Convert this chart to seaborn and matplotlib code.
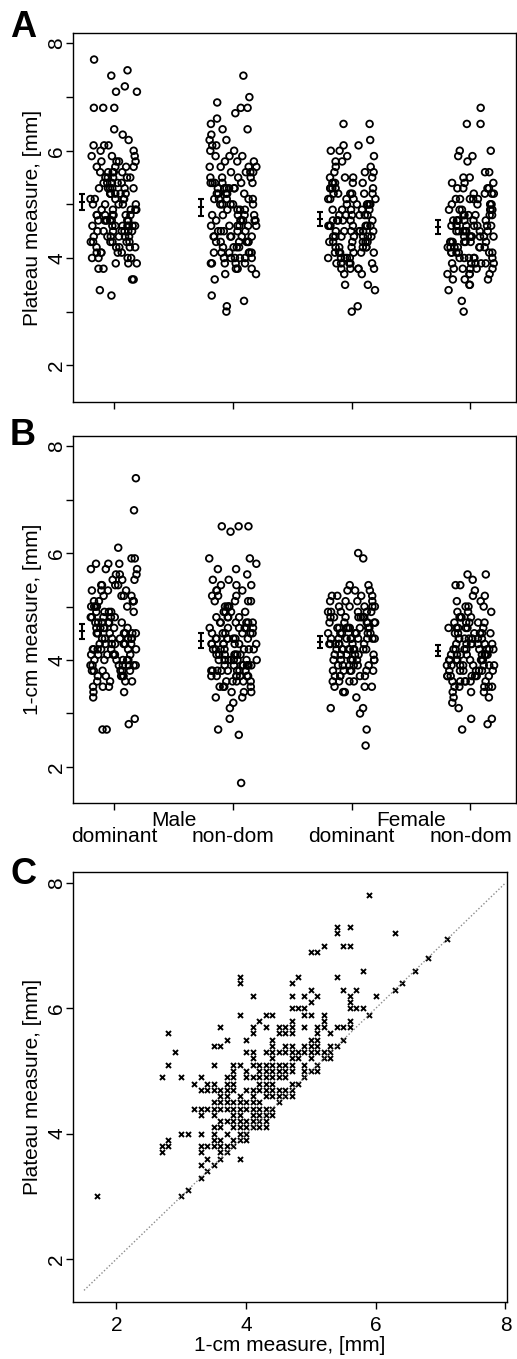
import numpy as np
import pandas as pd
import matplotlib
matplotlib.use("Agg")
import matplotlib.pyplot as plt
import seaborn as sns
from matplotlib.ticker import FixedLocator

# ---- data (mm, 0.1 mm resolution) ----
groups = ["Male dominant", "Male non-dom", "Female dominant", "Female non-dom"]
side_labels = ["dominant", "non-dom", "dominant", "non-dom"]
sex_labels = ["Male", "Female"]

plateau_male_dom = [
    7.7, 7.5, 7.4, 7.2, 7.1, 7.1, 6.8, 6.8, 6.8, 6.4, 6.3, 6.2, 6.1, 6.1, 6.1, 6.0, 6.0,
    5.9, 5.9, 5.9, 5.8, 5.8, 5.8, 5.8, 5.7, 5.7, 5.7, 5.7,
    5.6, 5.6, 5.6, 5.6, 5.6, 5.5, 5.5, 5.5, 5.5, 5.5,
    5.4, 5.4, 5.4, 5.4, 5.4, 5.3, 5.3, 5.3, 5.3, 5.3, 5.3,
    5.2, 5.2, 5.2, 5.2, 5.2, 5.2, 5.1, 5.1, 5.1, 5.1, 5.1,
    5.0, 5.0, 5.0, 5.0, 5.0, 4.9, 4.9, 4.9, 4.9, 4.9,
    4.8, 4.8, 4.8, 4.8, 4.8, 4.8, 4.8, 4.7, 4.7, 4.7, 4.7, 4.7, 4.7, 4.7, 4.7,
    4.6, 4.6, 4.6, 4.6, 4.6, 4.6, 4.6, 4.6, 4.5, 4.5, 4.5, 4.5, 4.5, 4.5, 4.5,
    4.4, 4.4, 4.4, 4.4, 4.4, 4.4, 4.3, 4.3, 4.3, 4.3, 4.3, 4.3,
    4.2, 4.2, 4.2, 4.2, 4.2, 4.1, 4.1, 4.1, 4.1, 4.1,
    4.0, 4.0, 4.0, 4.0, 3.9, 3.9, 3.9, 3.8, 3.8, 3.6, 3.6, 3.4, 3.3,
]
plateau_male_nondom = [
    7.4, 7.0, 6.9, 6.8, 6.8, 6.7, 6.6, 6.5, 6.4, 6.4, 6.3, 6.2, 6.2, 6.1, 6.1, 6.0, 6.0,
    5.9, 5.9, 5.9, 5.8, 5.8, 5.8, 5.7, 5.7, 5.7, 5.7, 5.6, 5.6, 5.6, 5.6, 5.5, 5.5, 5.5, 5.5,
    5.4, 5.4, 5.4, 5.4, 5.4, 5.4, 5.3, 5.3, 5.3, 5.3, 5.3, 5.3,
    5.2, 5.2, 5.2, 5.2, 5.2, 5.1, 5.1, 5.1, 5.1, 5.1, 5.0, 5.0, 5.0, 5.0, 5.0,
    4.9, 4.9, 4.9, 4.9, 4.8, 4.8, 4.8, 4.8, 4.8, 4.7, 4.7, 4.7, 4.7, 4.7, 4.7,
    4.6, 4.6, 4.6, 4.6, 4.6, 4.6, 4.5, 4.5, 4.5, 4.5, 4.5,
    4.4, 4.4, 4.4, 4.4, 4.4, 4.4, 4.3, 4.3, 4.3, 4.3, 4.3, 4.3, 4.2, 4.2, 4.2, 4.2,
    4.1, 4.1, 4.1, 4.1, 4.1, 4.1, 4.0, 4.0, 4.0, 4.0, 4.0, 4.0,
    3.9, 3.9, 3.9, 3.9, 3.9, 3.8, 3.8, 3.8, 3.7, 3.7, 3.6, 3.3, 3.2, 3.1, 3.0,
]
plateau_female_dom = [
    6.5, 6.5, 6.2, 6.1, 6.1, 6.0, 6.0, 5.9, 5.9, 5.8, 5.8, 5.7, 5.7, 5.6, 5.6, 5.6,
    5.5, 5.5, 5.5, 5.5, 5.4, 5.4, 5.4, 5.4, 5.4, 5.3, 5.3, 5.3, 5.3, 5.3,
    5.2, 5.2, 5.2, 5.2, 5.2, 5.2, 5.1, 5.1, 5.1, 5.1, 5.1,
    5.0, 5.0, 5.0, 5.0, 5.0, 5.0, 4.9, 4.9, 4.9, 4.9, 4.9,
    4.8, 4.8, 4.8, 4.8, 4.8, 4.8, 4.7, 4.7, 4.7, 4.7, 4.7, 4.7,
    4.6, 4.6, 4.6, 4.6, 4.6, 4.6, 4.6, 4.5, 4.5, 4.5, 4.5, 4.5, 4.5, 4.5,
    4.4, 4.4, 4.4, 4.4, 4.4, 4.4, 4.4, 4.3, 4.3, 4.3, 4.3, 4.3, 4.3,
    4.2, 4.2, 4.2, 4.2, 4.2, 4.2, 4.1, 4.1, 4.1, 4.1, 4.1, 4.1,
    4.0, 4.0, 4.0, 4.0, 4.0, 3.9, 3.9, 3.9, 3.9, 3.9, 3.8, 3.8, 3.8, 3.8, 3.8,
    3.7, 3.7, 3.5, 3.5, 3.4, 3.1, 3.0,
]
plateau_female_nondom = [
    6.8, 6.5, 6.5, 6.0, 6.0, 5.9, 5.9, 5.8, 5.6, 5.6, 5.5, 5.5,
    5.4, 5.4, 5.4, 5.3, 5.3, 5.3, 5.3, 5.2, 5.2, 5.2, 5.2,
    5.1, 5.1, 5.1, 5.1, 5.1, 5.0, 5.0, 5.0, 5.0, 5.0,
    4.9, 4.9, 4.9, 4.9, 4.9, 4.9, 4.8, 4.8, 4.8, 4.8, 4.8, 4.8,
    4.7, 4.7, 4.7, 4.7, 4.7, 4.7, 4.7, 4.6, 4.6, 4.6, 4.6, 4.6, 4.6, 4.6,
    4.5, 4.5, 4.5, 4.5, 4.5, 4.5, 4.5, 4.4, 4.4, 4.4, 4.4, 4.4, 4.4, 4.4,
    4.3, 4.3, 4.3, 4.3, 4.3, 4.3, 4.3, 4.2, 4.2, 4.2, 4.2, 4.2, 4.2, 4.2,
    4.1, 4.1, 4.1, 4.1, 4.1, 4.1, 4.0, 4.0, 4.0, 4.0, 4.0, 4.0,
    3.9, 3.9, 3.9, 3.9, 3.9, 3.9, 3.8, 3.8, 3.8, 3.8, 3.8,
    3.7, 3.7, 3.7, 3.7, 3.6, 3.6, 3.6, 3.5, 3.5, 3.4, 3.2, 3.0,
]

onecm_male_dom = [
    7.4, 6.8, 6.1, 5.9, 5.9, 5.8, 5.8, 5.8, 5.7, 5.7, 5.7, 5.6, 5.6, 5.6, 5.5, 5.5, 5.5,
    5.4, 5.4, 5.4, 5.4, 5.3, 5.3, 5.3, 5.3, 5.2, 5.2, 5.2, 5.2,
    5.1, 5.1, 5.1, 5.1, 5.1, 5.0, 5.0, 5.0, 5.0, 5.0,
    4.9, 4.9, 4.9, 4.9, 4.9, 4.8, 4.8, 4.8, 4.8, 4.8,
    4.7, 4.7, 4.7, 4.7, 4.7, 4.7, 4.6, 4.6, 4.6, 4.6, 4.6, 4.6,
    4.5, 4.5, 4.5, 4.5, 4.5, 4.5, 4.5, 4.4, 4.4, 4.4, 4.4, 4.4, 4.4, 4.4,
    4.3, 4.3, 4.3, 4.3, 4.3, 4.3, 4.3, 4.2, 4.2, 4.2, 4.2, 4.2, 4.2, 4.2,
    4.1, 4.1, 4.1, 4.1, 4.1, 4.1, 4.1, 4.0, 4.0, 4.0, 4.0, 4.0, 4.0,
    3.9, 3.9, 3.9, 3.9, 3.9, 3.9, 3.9, 3.8, 3.8, 3.8, 3.8, 3.8, 3.8,
    3.7, 3.7, 3.7, 3.7, 3.7, 3.6, 3.6, 3.6, 3.6, 3.5, 3.5, 3.5, 3.4, 3.4, 3.3,
    2.9, 2.8, 2.7, 2.7,
]
onecm_male_nondom = [
    6.5, 6.5, 6.5, 6.4, 5.9, 5.9, 5.8, 5.7, 5.7, 5.6, 5.5, 5.5,
    5.4, 5.4, 5.4, 5.3, 5.3, 5.3, 5.2, 5.2, 5.2, 5.1, 5.1, 5.1, 5.1, 5.0, 5.0, 5.0, 5.0,
    4.9, 4.9, 4.9, 4.9, 4.8, 4.8, 4.8, 4.8, 4.7, 4.7, 4.7, 4.7, 4.7, 4.7,
    4.6, 4.6, 4.6, 4.6, 4.6, 4.6, 4.5, 4.5, 4.5, 4.5, 4.5, 4.5,
    4.4, 4.4, 4.4, 4.4, 4.4, 4.4, 4.4, 4.3, 4.3, 4.3, 4.3, 4.3, 4.3, 4.3,
    4.2, 4.2, 4.2, 4.2, 4.2, 4.2, 4.2, 4.1, 4.1, 4.1, 4.1, 4.1, 4.1, 4.1,
    4.0, 4.0, 4.0, 4.0, 4.0, 4.0, 4.0, 4.0, 3.9, 3.9, 3.9, 3.9, 3.9, 3.9, 3.9, 3.9,
    3.8, 3.8, 3.8, 3.8, 3.8, 3.8, 3.8, 3.8, 3.7, 3.7, 3.7, 3.7, 3.7, 3.7, 3.7,
    3.6, 3.6, 3.6, 3.6, 3.6, 3.5, 3.5, 3.5, 3.5, 3.4, 3.4, 3.4, 3.3, 3.3,
    3.2, 3.1, 2.9, 2.7, 2.6, 1.7,
]
onecm_female_dom = [
    6.0, 5.9, 5.4, 5.4, 5.3, 5.3, 5.3, 5.2, 5.2, 5.2, 5.2, 5.1, 5.1, 5.1, 5.1,
    5.0, 5.0, 5.0, 5.0, 5.0, 4.9, 4.9, 4.9, 4.9, 4.9, 4.9,
    4.8, 4.8, 4.8, 4.8, 4.8, 4.8, 4.8, 4.7, 4.7, 4.7, 4.7, 4.7, 4.7,
    4.6, 4.6, 4.6, 4.6, 4.6, 4.6, 4.6, 4.6, 4.5, 4.5, 4.5, 4.5, 4.5, 4.5, 4.5,
    4.4, 4.4, 4.4, 4.4, 4.4, 4.4, 4.4, 4.4, 4.4, 4.3, 4.3, 4.3, 4.3, 4.3, 4.3, 4.3,
    4.2, 4.2, 4.2, 4.2, 4.2, 4.2, 4.2, 4.2, 4.2, 4.1, 4.1, 4.1, 4.1, 4.1, 4.1,
    4.0, 4.0, 4.0, 4.0, 4.0, 4.0, 4.0, 3.9, 3.9, 3.9, 3.9, 3.9, 3.9,
    3.8, 3.8, 3.8, 3.8, 3.8, 3.8, 3.7, 3.7, 3.7, 3.7, 3.7, 3.6, 3.6, 3.6, 3.6,
    3.5, 3.5, 3.5, 3.4, 3.4, 3.3, 3.1, 3.1, 3.0, 2.7, 2.4,
]
onecm_female_nondom = [
    5.6, 5.6, 5.5, 5.4, 5.4, 5.3, 5.2, 5.2, 5.1, 5.1, 5.0, 5.0, 5.0, 4.9, 4.9, 4.9,
    4.8, 4.8, 4.8, 4.8, 4.7, 4.7, 4.7, 4.7, 4.7, 4.6, 4.6, 4.6, 4.6, 4.6, 4.6,
    4.5, 4.5, 4.5, 4.5, 4.5, 4.5, 4.4, 4.4, 4.4, 4.4, 4.4, 4.4, 4.4,
    4.3, 4.3, 4.3, 4.3, 4.3, 4.3, 4.3, 4.2, 4.2, 4.2, 4.2, 4.2, 4.2, 4.2, 4.2,
    4.1, 4.1, 4.1, 4.1, 4.1, 4.1, 4.1, 4.1, 4.0, 4.0, 4.0, 4.0, 4.0, 4.0, 4.0, 4.0,
    3.9, 3.9, 3.9, 3.9, 3.9, 3.9, 3.9, 3.9, 3.8, 3.8, 3.8, 3.8, 3.8, 3.8, 3.8,
    3.7, 3.7, 3.7, 3.7, 3.7, 3.7, 3.7, 3.6, 3.6, 3.6, 3.6, 3.6, 3.6,
    3.5, 3.5, 3.5, 3.5, 3.5, 3.4, 3.4, 3.4, 3.3, 3.3, 3.2, 3.1, 2.9, 2.9, 2.8, 2.7,
]

# panel C: paired (1-cm, plateau) values, one line per plateau level
c_onecm = [
    5.9,
    5.4, 5.6,
    5.4, 6.3,
    7.1,
    5.2, 5.5, 5.6,
    5.0, 5.1,
    6.8,
    5.8, 6.6,
    3.9, 4.8, 5.4,
    3.9, 4.7, 6.4,
    5.0, 5.5, 5.7, 6.3,
    4.1, 4.7, 4.9, 5.1, 5.6, 6.0,
    5.0, 5.6,
    4.7, 4.8, 4.9, 5.6, 5.7, 5.8,
    3.9, 4.3, 4.4, 4.9, 5.0, 5.2, 5.9,
    4.2, 4.7, 5.2, 5.6,
    3.6, 4.1, 4.3, 4.5, 4.6, 4.7, 4.9, 5.1, 5.2, 5.4, 5.5, 5.6,
    2.8, 4.1, 4.5, 4.6, 4.7, 5.1, 5.3,
    3.7, 4.0, 4.4, 5.0, 5.1, 5.5,
    3.5, 3.6, 4.4, 4.6, 4.7, 4.9, 5.0, 5.1, 5.3, 5.4,
    2.9, 4.0, 4.1, 4.3, 4.4, 4.5, 4.6, 4.7, 4.8, 4.9, 5.0, 5.1, 5.2, 5.3,
    4.1, 4.4, 4.7, 4.8, 5.0, 5.2, 5.3,
    2.8, 3.5, 3.8, 3.9, 4.1, 4.2, 4.3, 4.4, 4.5, 4.6, 4.7, 4.9, 5.1,
    3.8, 4.0, 4.2, 4.3, 4.4, 4.5, 4.6, 4.7, 4.9, 5.0, 5.1,
    2.7, 3.0, 3.3, 3.7, 3.8, 4.0, 4.1, 4.2, 4.3, 4.4, 4.5, 4.6, 4.9,
    3.2, 3.4, 3.5, 3.7, 3.8, 4.2, 4.3, 4.4, 4.7, 4.8,
    3.3, 3.4, 3.5, 3.6, 3.7, 3.8, 4.0, 4.1, 4.2, 4.3, 4.4, 4.5, 4.6, 4.7,
    3.6, 3.7, 3.9, 4.1, 4.3, 4.4, 4.5, 4.6, 4.7,
    3.5, 3.6, 3.7, 3.8, 3.9, 4.0, 4.1, 4.2, 4.5,
    3.2, 3.3, 3.4, 3.5, 3.6, 3.7, 3.8, 3.9, 4.0, 4.1, 4.2, 4.3, 4.4,
    3.3, 3.5, 3.8, 3.9, 4.1, 4.2, 4.3, 4.4,
    3.6, 3.7, 3.8, 3.9, 4.0, 4.1, 4.2, 4.3,
    3.5, 3.6, 3.8, 3.9, 4.0, 4.1, 4.2, 4.3,
    3.0, 3.1, 3.3, 3.5, 3.7, 3.9, 4.0,
    2.8, 3.5, 3.6, 3.8, 3.9, 4.0,
    2.7, 2.8, 3.3, 3.4, 3.5, 3.6, 3.7, 3.8,
    2.7, 3.3, 3.6, 3.7,
    3.4, 3.6, 3.9,
    3.3, 3.5,
    3.4,
    3.3,
    3.1,
    1.7, 3.0,
]
c_plateau = [
    7.8,
    7.3, 7.3,
    7.2, 7.2,
    7.1,
    7.0, 7.0, 7.0,
    6.9, 6.9,
    6.8,
    6.6, 6.6,
    6.5, 6.5, 6.5,
    6.4, 6.4, 6.4,
    6.3, 6.3, 6.3, 6.3,
    6.2, 6.2, 6.2, 6.2, 6.2, 6.2,
    6.1, 6.1,
    6.0, 6.0, 6.0, 6.0, 6.0, 6.0,
    5.9, 5.9, 5.9, 5.9, 5.9, 5.9, 5.9,
    5.8, 5.8, 5.8, 5.8,
    5.7, 5.7, 5.7, 5.7, 5.7, 5.7, 5.7, 5.7, 5.7, 5.7, 5.7, 5.7,
    5.6, 5.6, 5.6, 5.6, 5.6, 5.6, 5.6,
    5.5, 5.5, 5.5, 5.5, 5.5, 5.5,
    5.4, 5.4, 5.4, 5.4, 5.4, 5.4, 5.4, 5.4, 5.4, 5.4,
    5.3, 5.3, 5.3, 5.3, 5.3, 5.3, 5.3, 5.3, 5.3, 5.3, 5.3, 5.3, 5.3, 5.3,
    5.2, 5.2, 5.2, 5.2, 5.2, 5.2, 5.2,
    5.1, 5.1, 5.1, 5.1, 5.1, 5.1, 5.1, 5.1, 5.1, 5.1, 5.1, 5.1, 5.1,
    5.0, 5.0, 5.0, 5.0, 5.0, 5.0, 5.0, 5.0, 5.0, 5.0, 5.0,
    4.9, 4.9, 4.9, 4.9, 4.9, 4.9, 4.9, 4.9, 4.9, 4.9, 4.9, 4.9, 4.9,
    4.8, 4.8, 4.8, 4.8, 4.8, 4.8, 4.8, 4.8, 4.8, 4.8,
    4.7, 4.7, 4.7, 4.7, 4.7, 4.7, 4.7, 4.7, 4.7, 4.7, 4.7, 4.7, 4.7, 4.7,
    4.6, 4.6, 4.6, 4.6, 4.6, 4.6, 4.6, 4.6, 4.6,
    4.5, 4.5, 4.5, 4.5, 4.5, 4.5, 4.5, 4.5, 4.5,
    4.4, 4.4, 4.4, 4.4, 4.4, 4.4, 4.4, 4.4, 4.4, 4.4, 4.4, 4.4, 4.4,
    4.3, 4.3, 4.3, 4.3, 4.3, 4.3, 4.3, 4.3,
    4.2, 4.2, 4.2, 4.2, 4.2, 4.2, 4.2, 4.2,
    4.1, 4.1, 4.1, 4.1, 4.1, 4.1, 4.1, 4.1,
    4.0, 4.0, 4.0, 4.0, 4.0, 4.0, 4.0,
    3.9, 3.9, 3.9, 3.9, 3.9, 3.9,
    3.8, 3.8, 3.8, 3.8, 3.8, 3.8, 3.8, 3.8,
    3.7, 3.7, 3.7, 3.7,
    3.6, 3.6, 3.6,
    3.5, 3.5,
    3.4,
    3.3,
    3.1,
    3.0, 3.0,
]
identity_line = [1.5, 8.0]

# ---- style ----
np.random.seed(7)
sns.set_style("ticks")
plt.rcParams["font.family"] = ["Liberation Sans", "DejaVu Sans"]
plt.rcParams.update({
    "axes.linewidth": 1.0,
    "axes.edgecolor": "black",
    "text.color": "black",
    "axes.labelcolor": "black",
    "xtick.color": "black",
    "ytick.color": "black",
})
FS = 15


def long_frame(lists):
    return pd.DataFrame({
        "group": np.repeat(groups, [len(v) for v in lists]),
        "value": np.concatenate(lists),
    })


def style_axis(ax):
    ax.tick_params(which="both", direction="out", length=5, width=1.0,
                   color="black", labelsize=FS, labelcolor="black")
    ax.tick_params(axis="y", which="both", labelrotation=90, pad=0)
    ax.set_yticks([2, 4, 6, 8])
    ax.set_ylim(1.32, 8.19)
    for lab in ax.get_yticklabels():
        lab.set_va("center")
    for s in ax.spines.values():
        s.set_visible(True)
        s.set_color("black")
        s.set_linewidth(1.0)


def strip_panel(ax, df, ylabel):
    sns.stripplot(data=df, x="group", y="value", order=groups, jitter=0.2,
                  size=4.8, linewidth=1.3, color="black", ax=ax)
    for coll in ax.collections:
        coll.set_facecolor("none")
        coll.set_edgecolor("black")
    stats = df.groupby("group")["value"].agg(["mean", "std", "count"]).reindex(groups)
    ci = 1.96 * stats["std"] / np.sqrt(stats["count"])
    ax.errorbar(np.arange(len(groups)) - 0.27, stats["mean"], yerr=ci, fmt="_",
                ms=4, mew=1.5, color="black", ecolor="black", elinewidth=1.5,
                capsize=2.4, capthick=1.5)
    style_axis(ax)
    ax.yaxis.set_minor_locator(FixedLocator([3, 5, 7]))
    ax.set_xlim(-0.347, 3.384)
    ax.set_xticks(range(len(groups)))
    ax.set_xticklabels([""] * len(groups))
    ax.set_xlabel("")
    ax.set_ylabel(ylabel, fontsize=FS)
    ax.yaxis.set_label_coords(-0.070, 0.5)


fig = plt.figure(figsize=(5.17, 13.59), dpi=100)
ax_a = fig.add_axes([0.1412, 0.7044, 0.857, 0.2711])
ax_b = fig.add_axes([0.1412, 0.4089, 0.857, 0.2703])
ax_c = fig.add_axes([0.1412, 0.0422, 0.839, 0.3164])

plateau_df = long_frame([plateau_male_dom, plateau_male_nondom,
                         plateau_female_dom, plateau_female_nondom])
onecm_df = long_frame([onecm_male_dom, onecm_male_nondom,
                       onecm_female_dom, onecm_female_nondom])

strip_panel(ax_a, plateau_df, "Plateau measure, [mm]")
strip_panel(ax_b, onecm_df, "1-cm measure, [mm]")

# two-row category labels under panel B
for i, lab in enumerate(side_labels):
    ax_b.annotate(lab, xy=(i, 0), xycoords=("data", "axes fraction"),
                  xytext=(0, -28), textcoords="offset points",
                  ha="center", va="baseline", fontsize=FS)
for j, lab in enumerate(sex_labels):
    ax_b.annotate(lab, xy=(2 * j + 0.5, 0), xycoords=("data", "axes fraction"),
                  xytext=(0, -16), textcoords="offset points",
                  ha="center", va="baseline", fontsize=FS)

# panel C
sns.lineplot(x=identity_line, y=identity_line, ax=ax_c, color="#8c8c8c",
             linestyle=(0, (1, 1.5)), linewidth=1.0)
sns.scatterplot(x=c_onecm, y=c_plateau, ax=ax_c, marker="x", s=13,
                color="black", linewidth=1.4)
style_axis(ax_c)
ax_c.set_ylim(1.32, 8.18)
ax_c.set_xlim(1.33, 8.02)
ax_c.set_xticks([2, 4, 6, 8])
ax_c.tick_params(axis="x", pad=5)
ax_c.set_xlabel("1-cm measure, [mm]", fontsize=FS, labelpad=1)
ax_c.set_ylabel("Plateau measure, [mm]", fontsize=FS)
ax_c.yaxis.set_label_coords(-0.072, 0.5)

for letter, ypos in [("A", 1 - 37 / 1359), ("B", 1 - 445 / 1359), ("C", 1 - 884 / 1359)]:
    fig.text(10 / 517, ypos, letter, fontsize=26, fontweight="bold",
             va="baseline", ha="left")

fig.savefig("out.png", dpi=100, facecolor="white")
